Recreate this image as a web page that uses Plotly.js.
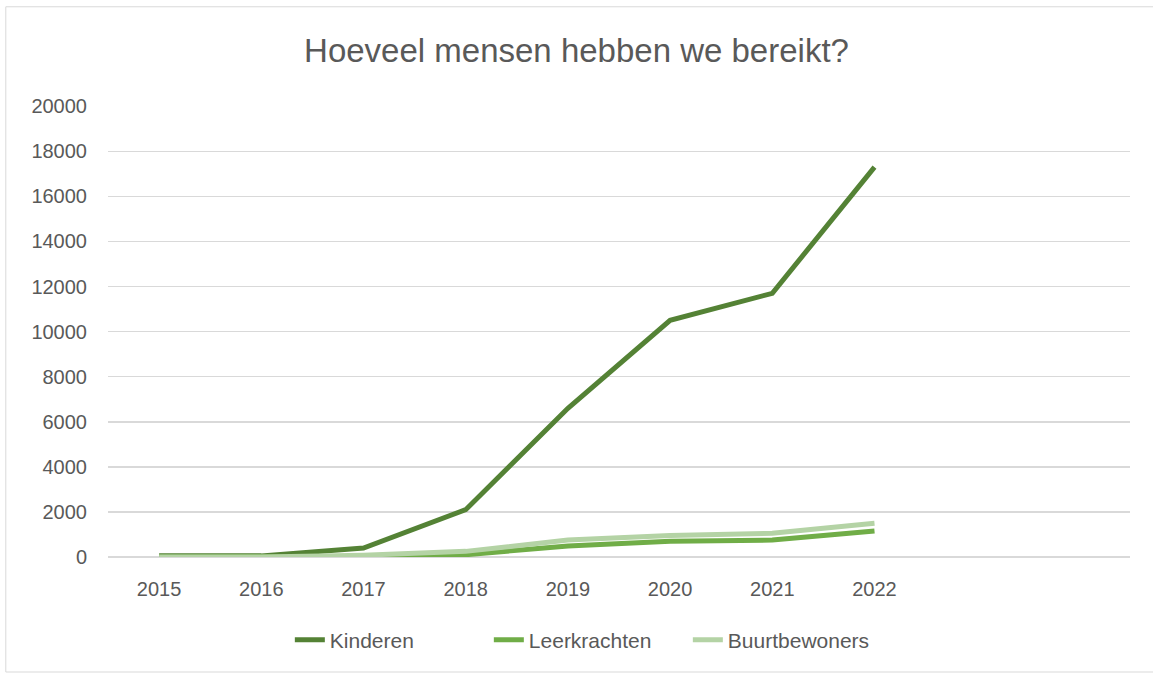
<!DOCTYPE html>
<html>
<head>
<meta charset="utf-8">
<script src="https://cdn.plot.ly/plotly-3.0.1.min.js"></script>
<style>
  html, body { margin: 0; padding: 0; background: #fff; }
  #chart { width: 1153px; height: 675px; }
</style>
</head>
<body>
<div id="chart"></div>
<script>
// values
var years = [2015, 2016, 2017, 2018, 2019, 2020, 2021, 2022];
var kinderen = [50, 50, 400, 2100, 6600, 10500, 11700, 17300];
var leerkrachten = [0, 0, 20, 100, 490, 700, 750, 1150];
var buurtbewoners = [0, 0, 80, 250, 750, 950, 1050, 1500];
var yTicks = [0, 2000, 4000, 6000, 8000, 10000, 12000, 14000, 16000, 18000, 20000];

var txt = '#595959';
var grid = '#d9d9d9';

function serie(name, y, color) {
    return {
        x: years,
        y: y,
        name: name,
        type: 'scatter',
        mode: 'lines',
        line: {color: color, width: 5},
        hoverinfo: 'skip'
    };
}

var data = [
    serie('Kinderen', kinderen, '#548235'),
    serie('Leerkrachten', leerkrachten, '#70ad47'),
    serie('Buurtbewoners', buurtbewoners, '#b4d3a5')
];

var layout = {
    width: 1153,
    height: 675,
    paper_bgcolor: '#fff',
    plot_bgcolor: '#fff',
    font: {family: 'Liberation Sans, Arial, sans-serif', color: txt, size: 20},
    title: {
        text: 'Hoeveel mensen hebben we bereikt?',
        font: {size: 33, color: txt},
        x: 0.5, xanchor: 'center',
        y: 0.925, yanchor: 'middle'
    },
    margin: {l: 108, r: 23, t: 106, b: 118},
    xaxis: {
        range: [2014.5, 2024.5],
        tickvals: years,
        ticktext: years.map(String),
        showgrid: false,
        zeroline: false,
        showline: false,
        ticks: '',
        ticklabelstandoff: 18,
        tickfont: {size: 20, color: txt},
        fixedrange: true
    },
    yaxis: {
        range: [0, 20010],
        tickvals: yTicks,
        tickformat: 'd',
        showgrid: true,
        gridcolor: grid,
        gridwidth: 1.5,
        zeroline: true,
        zerolinecolor: grid,
        zerolinewidth: 1.5,
        showline: false,
        ticks: '',
        ticklabelstandoff: 20,
        tickfont: {size: 20, color: txt},
        fixedrange: true
    },
    showlegend: true,
    legend: {
        orientation: 'h',
        x: 0.47, xanchor: 'center',
        y: -0.184, yanchor: 'middle',
        font: {size: 21, color: txt},
        entrywidth: 154,
        tracegroupgap: 0
    },
    shapes: [{
        type: 'rect',
        xref: 'paper', yref: 'paper',
        x0: -0.1, x1: 1.05,
        y0: -0.255, y1: 1.22,
        line: {color: grid, width: 1},
        layer: 'below'
    }]
};

Plotly.newPlot('chart', data, layout, {displayModeBar: false, staticPlot: true});
</script>
</body>
</html>
